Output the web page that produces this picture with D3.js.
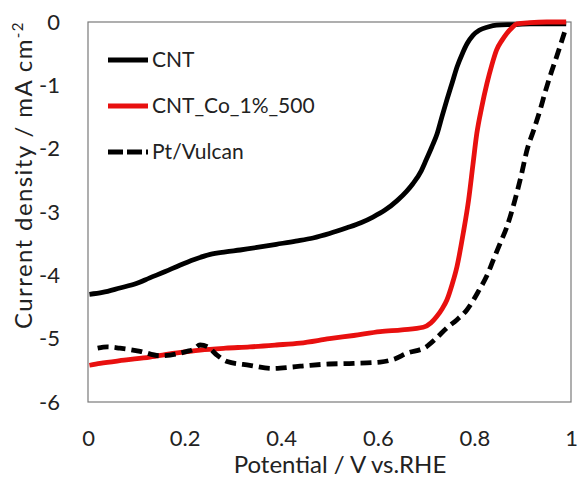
<!DOCTYPE html>
<html><head><meta charset="utf-8">
<script src="https://cdn.jsdelivr.net/npm/d3@7"></script>
<style>body{margin:0;background:#fff}svg{display:block}text{font-family:Lato,"Open Sans",sans-serif;fill:#222}</style>
</head><body><svg id="c" width="577" height="480"></svg>
<script>
const xTicks=[0,0.2,0.4,0.6,0.8,1];
const xTickLabels=["0","0.2","0.4","0.6","0.8","1"];
const yTicks=[0,-1,-2,-3,-4,-5,-6];
const yTickLabels=["0","-1","-2","-3","-4","-5","-6"];
const seriesNames=["CNT","CNT_Co_1%_500","Pt/Vulcan"];
const cntX=[0.003,0.03,0.066,0.1,0.128,0.16,0.19,0.22,0.253,0.285,0.315,0.35,0.39,0.43,0.466,0.5,0.536,0.565,0.59,0.615,0.64,0.66,0.673,0.69,0.70,0.712,0.723,0.733,0.743,0.754,0.764,0.775,0.785,0.797,0.81,0.828,0.846,0.88,0.915,0.95,0.99];
const cntY=[-4.3,-4.27,-4.2,-4.13,-4.04,-3.94,-3.84,-3.75,-3.67,-3.63,-3.6,-3.56,-3.51,-3.46,-3.41,-3.34,-3.25,-3.17,-3.08,-2.97,-2.82,-2.67,-2.55,-2.35,-2.18,-1.97,-1.76,-1.49,-1.23,-0.96,-0.71,-0.5,-0.34,-0.21,-0.13,-0.08,-0.05,-0.04,-0.03,-0.03,-0.03];
const coX=[0.003,0.025,0.075,0.128,0.18,0.232,0.285,0.335,0.39,0.439,0.5,0.55,0.605,0.65,0.694,0.71,0.722,0.733,0.743,0.754,0.764,0.777,0.788,0.797,0.805,0.815,0.826,0.836,0.846,0.857,0.867,0.878,0.888,0.915,0.95,0.99];
const coY=[-5.42,-5.39,-5.34,-5.29,-5.23,-5.18,-5.15,-5.13,-5.1,-5.07,-5.0,-4.95,-4.89,-4.86,-4.82,-4.75,-4.65,-4.53,-4.39,-4.14,-3.86,-3.33,-2.81,-2.25,-1.76,-1.35,-0.97,-0.68,-0.44,-0.29,-0.18,-0.09,-0.03,-0.01,0,0];
const ptX=[0.02,0.04,0.066,0.108,0.149,0.17,0.19,0.205,0.218,0.232,0.248,0.267,0.288,0.335,0.383,0.42,0.46,0.5,0.55,0.605,0.635,0.66,0.70,0.72,0.743,0.764,0.784,0.81,0.825,0.839,0.853,0.867,0.884,0.897,0.909,0.923,0.936,0.946,0.956,0.967,0.977,0.985,0.99];
const ptY=[-5.15,-5.13,-5.15,-5.2,-5.27,-5.26,-5.23,-5.2,-5.17,-5.1,-5.13,-5.26,-5.36,-5.42,-5.47,-5.45,-5.42,-5.4,-5.39,-5.37,-5.32,-5.23,-5.13,-5.0,-4.83,-4.7,-4.55,-4.23,-4.02,-3.76,-3.5,-3.24,-2.81,-2.42,-2.02,-1.7,-1.39,-1.12,-0.87,-0.62,-0.39,-0.2,-0.08];

const svg=d3.select("#c");
const L=88,R=571,T=22,B=402;
const x=d3.scaleLinear().domain([0,1]).range([L,R]);
const y=d3.scaleLinear().domain([-6,0]).range([B,T]);

// frame
svg.append("rect").attr("x",L).attr("y",T).attr("width",R-L).attr("height",B-T)
  .attr("fill","none").attr("stroke","#7a7a7a").attr("stroke-width",1.2);

// axes (labels only)
const xa=svg.append("g").attr("transform",`translate(0,${B})`)
  .call(d3.axisBottom(x).tickValues(xTicks).tickFormat((d,i)=>xTickLabels[i]).tickSize(0).tickPadding(28));
xa.select(".domain").remove();
xa.selectAll("text").attr("font-size",22).attr("font-family","Lato,sans-serif").attr("fill","#222");
const ya=svg.append("g").attr("transform",`translate(${L},0)`)
  .call(d3.axisLeft(y).tickValues(yTicks).tickFormat((d,i)=>yTickLabels[i]).tickSize(0).tickPadding(28));
ya.select(".domain").remove();
ya.selectAll("text").attr("font-size",22).attr("font-family","Lato,sans-serif").attr("fill","#222");

// titles
svg.append("text").attr("x",340).attr("y",473).attr("text-anchor","middle").attr("font-size",24).text("Potential / V vs.RHE");
const yt=svg.append("text").attr("transform","translate(32,175) rotate(-90)").attr("text-anchor","middle")
  .attr("font-size",24).attr("letter-spacing",1.4);
yt.append("tspan").text("Current density / mA cm");
yt.append("tspan").attr("dy",-9).attr("font-size",15).text("-2");

const line=d3.line().x(d=>x(d[0])).y(d=>y(d[1])).curve(d3.curveMonotoneX);
const series=[
  {xs:cntX,ys:cntY,color:"#000",dash:null},
  {xs:coX,ys:coY,color:"#e8100f",dash:null},
  {xs:ptX,ys:ptY,color:"#000",dash:"11,6"}
];
series.forEach(s=>{
  const pts=s.xs.map((v,i)=>[v,s.ys[i]]);
  svg.append("path").attr("d",line(pts)).attr("fill","none").attr("stroke",s.color)
    .attr("stroke-width",4.8).attr("stroke-linejoin","round")
    .attr("stroke-dasharray",s.dash);
});

// legend
const lg=[60,106,152];
series.forEach((s,i)=>{
  svg.append("line").attr("x1",108).attr("x2",148).attr("y1",lg[i]).attr("y2",lg[i])
    .attr("stroke",s.color).attr("stroke-width",4.8).attr("stroke-dasharray",s.dash?"15,4":null);
  svg.append("text").attr("x",152).attr("y",lg[i]+7).attr("font-size",21).text(seriesNames[i]);
});
</script></body></html>
